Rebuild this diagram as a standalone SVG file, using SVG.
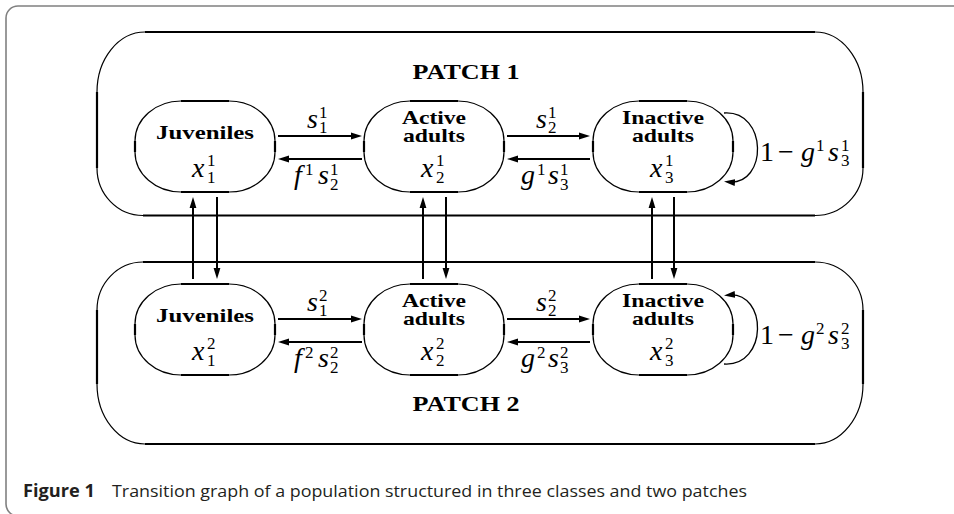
<svg xmlns="http://www.w3.org/2000/svg" width="954" height="514" viewBox="0 0 954 514">
<style>
.thin{fill:none;stroke:#000;stroke-width:1.2}
.thick{fill:none;stroke:#000;stroke-width:2.2}
.frame{fill:none;stroke:#808080;stroke-width:1.6}
.bl{font-family:'Liberation Serif','Times New Roman',serif;font-weight:bold;font-size:19px;text-anchor:middle;fill:#000}
.pt{font-family:'Liberation Serif','Times New Roman',serif;font-weight:bold;font-size:21px;text-anchor:middle;fill:#000}
.m{font-family:'Liberation Serif','Times New Roman',serif;font-size:28px;font-style:italic;fill:#000}
.sc{font-size:17px;font-style:normal}
.up{font-style:normal}
.arr{fill:none;stroke:#000;stroke-width:2;marker-end:url(#ah)}
.loop{fill:none;stroke:#000;stroke-width:1.3;marker-end:url(#ah)}
.cap{font-family:'Open Sans','Noto Sans','Liberation Sans',sans-serif;font-size:17px;fill:#231f20}
</style>
<defs>
<marker id="ah" markerUnits="userSpaceOnUse" markerWidth="12" markerHeight="8" refX="7" refY="4" orient="auto">
<path d="M0,0.6 L11,4 L0,7.4 z" fill="#000"/>
</marker>
</defs>

<path class="frame" d="M960,6 H18 A12,12 0 0 0 6,18 V504 A12,12 0 0 0 18,516 H960"/>

<g id="patch1">
<path class="thick" d="M145,32 H815 M863,92 V168 M815,215.5 H143 M97,168 V92"/>
<path class="thin" d="M815,32 A48,60 0 0 1 863,92 M863,168 A48,47.5 0 0 1 815,215.5 M143,215.5 A46,47.5 0 0 1 97,168 M97,92 A48,60 0 0 1 145,32"/>
<text class="pt" x="466" y="79" textLength="107" lengthAdjust="spacingAndGlyphs">PATCH 1</text>
</g>

<g id="patch2">
<path class="thick" d="M143,262 H815 M863,310 V384 M815,444 H145 M97,384 V310"/>
<path class="thin" d="M815,262 A48,48 0 0 1 863,310 M863,384 A48,60 0 0 1 815,444 M145,444 A48,60 0 0 1 97,384 M97,310 A46,48 0 0 1 143,262"/>
<text class="pt" x="466" y="411" textLength="107" lengthAdjust="spacingAndGlyphs">PATCH 2</text>
</g>

<g id="juveniles1">
<rect class="thin" x="135" y="101" width="140" height="91" rx="46" ry="40"/>
<path class="thick" d="M181,101 H229 M181,192 H229 M135,141 V152 M275,141 V152"/>
<text class="bl" x="205" y="139" textLength="98" lengthAdjust="spacingAndGlyphs">Juveniles</text>
<text class="m"><tspan x="192" y="177">x</tspan><tspan class="sc" x="207" y="166">1</tspan><tspan class="sc" x="207" y="183">1</tspan></text>
</g>

<g id="active1">
<rect class="thin" x="364" y="101" width="140" height="91" rx="46" ry="40"/>
<path class="thick" d="M410,101 H458 M410,192 H458 M364,141 V152 M504,141 V152"/>
<text class="bl" x="434" y="124" textLength="64" lengthAdjust="spacingAndGlyphs">Active</text>
<text class="bl" x="434" y="142" textLength="62" lengthAdjust="spacingAndGlyphs">adults</text>
<text class="m"><tspan x="421" y="177">x</tspan><tspan class="sc" x="436" y="166">1</tspan><tspan class="sc" x="436" y="183">2</tspan></text>
</g>

<g id="inactive1">
<rect class="thin" x="593" y="101" width="140" height="91" rx="46" ry="40"/>
<path class="thick" d="M639,101 H687 M639,192 H687 M593,141 V152 M733,141 V152"/>
<text class="bl" x="663" y="124" textLength="82" lengthAdjust="spacingAndGlyphs">Inactive</text>
<text class="bl" x="663" y="142" textLength="62" lengthAdjust="spacingAndGlyphs">adults</text>
<text class="m"><tspan x="650" y="177">x</tspan><tspan class="sc" x="665" y="166">1</tspan><tspan class="sc" x="665" y="183">3</tspan></text>
</g>

<g id="juveniles2">
<rect class="thin" x="135" y="284" width="140" height="91" rx="46" ry="40"/>
<path class="thick" d="M181,284 H229 M181,375 H229 M135,324 V335 M275,324 V335"/>
<text class="bl" x="205" y="322" textLength="98" lengthAdjust="spacingAndGlyphs">Juveniles</text>
<text class="m"><tspan x="192" y="360">x</tspan><tspan class="sc" x="207" y="349">2</tspan><tspan class="sc" x="207" y="366">1</tspan></text>
</g>

<g id="active2">
<rect class="thin" x="364" y="284" width="140" height="91" rx="46" ry="40"/>
<path class="thick" d="M410,284 H458 M410,375 H458 M364,324 V335 M504,324 V335"/>
<text class="bl" x="434" y="307" textLength="64" lengthAdjust="spacingAndGlyphs">Active</text>
<text class="bl" x="434" y="325" textLength="62" lengthAdjust="spacingAndGlyphs">adults</text>
<text class="m"><tspan x="421" y="360">x</tspan><tspan class="sc" x="436" y="349">2</tspan><tspan class="sc" x="436" y="366">2</tspan></text>
</g>

<g id="inactive2">
<rect class="thin" x="593" y="284" width="140" height="91" rx="46" ry="40"/>
<path class="thick" d="M639,284 H687 M639,375 H687 M593,324 V335 M733,324 V335"/>
<text class="bl" x="663" y="307" textLength="82" lengthAdjust="spacingAndGlyphs">Inactive</text>
<text class="bl" x="663" y="325" textLength="62" lengthAdjust="spacingAndGlyphs">adults</text>
<text class="m"><tspan x="650" y="360">x</tspan><tspan class="sc" x="665" y="349">2</tspan><tspan class="sc" x="665" y="366">3</tspan></text>
</g>

<g id="connectors">
<path class="arr" d="M278,136 H358"/>
<path class="arr" d="M362,159 H282"/>
<path class="arr" d="M507,136 H586"/>
<path class="arr" d="M590,159 H511"/>
<path class="arr" d="M278,319 H358"/>
<path class="arr" d="M362,342 H282"/>
<path class="arr" d="M507,319 H586"/>
<path class="arr" d="M590,342 H511"/>
<path class="arr" d="M193,279 V201"/>
<path class="arr" d="M217,197 V275"/>
<path class="arr" d="M423,279 V201"/>
<path class="arr" d="M446,197 V275"/>
<path class="arr" d="M652,279 V201"/>
<path class="arr" d="M674,197 V275"/>
<path class="loop" d="M724,113 C768,110 768,186 728,182"/>
<path class="loop" d="M724,364 C768,367 768,291 728,295"/>

<text class="m"><tspan x="307" y="128">s</tspan><tspan class="sc" x="319" y="118">1</tspan><tspan class="sc" x="319" y="133">1</tspan></text>
<text class="m"><tspan x="294" y="184">f</tspan><tspan class="sc" x="305" y="175">1</tspan><tspan x="318" y="184">s</tspan><tspan class="sc" x="330" y="175">1</tspan><tspan class="sc" x="330" y="190">2</tspan></text>
<text class="m"><tspan x="536" y="128">s</tspan><tspan class="sc" x="548" y="118">1</tspan><tspan class="sc" x="548" y="133">2</tspan></text>
<text class="m"><tspan x="521" y="184">g</tspan><tspan class="sc" x="537" y="175">1</tspan><tspan x="548" y="184">s</tspan><tspan class="sc" x="560" y="175">1</tspan><tspan class="sc" x="560" y="190">3</tspan></text>
<text class="m"><tspan class="up" x="760" y="161">1</tspan><tspan class="up" x="778" y="161">−</tspan><tspan x="801" y="161">g</tspan><tspan class="sc" x="816" y="151">1</tspan><tspan x="828" y="161">s</tspan><tspan class="sc" x="841" y="151">1</tspan><tspan class="sc" x="841" y="166">3</tspan></text>

<text class="m"><tspan x="307" y="311">s</tspan><tspan class="sc" x="319" y="301">2</tspan><tspan class="sc" x="319" y="316">1</tspan></text>
<text class="m"><tspan x="294" y="367">f</tspan><tspan class="sc" x="305" y="358">2</tspan><tspan x="318" y="367">s</tspan><tspan class="sc" x="330" y="358">2</tspan><tspan class="sc" x="330" y="373">2</tspan></text>
<text class="m"><tspan x="536" y="311">s</tspan><tspan class="sc" x="548" y="301">2</tspan><tspan class="sc" x="548" y="316">2</tspan></text>
<text class="m"><tspan x="521" y="367">g</tspan><tspan class="sc" x="537" y="358">2</tspan><tspan x="548" y="367">s</tspan><tspan class="sc" x="560" y="358">2</tspan><tspan class="sc" x="560" y="373">3</tspan></text>
<text class="m"><tspan class="up" x="760" y="344">1</tspan><tspan class="up" x="778" y="344">−</tspan><tspan x="801" y="344">g</tspan><tspan class="sc" x="816" y="334">2</tspan><tspan x="828" y="344">s</tspan><tspan class="sc" x="841" y="334">2</tspan><tspan class="sc" x="841" y="349">3</tspan></text>
</g>

<g id="caption">
<text class="cap" x="23" y="497" font-weight="bold" textLength="72" lengthAdjust="spacingAndGlyphs">Figure 1</text>
<text class="cap" x="112" y="497" textLength="635" lengthAdjust="spacingAndGlyphs">Transition graph of a population structured in three classes and two patches</text>
</g>
</svg>
